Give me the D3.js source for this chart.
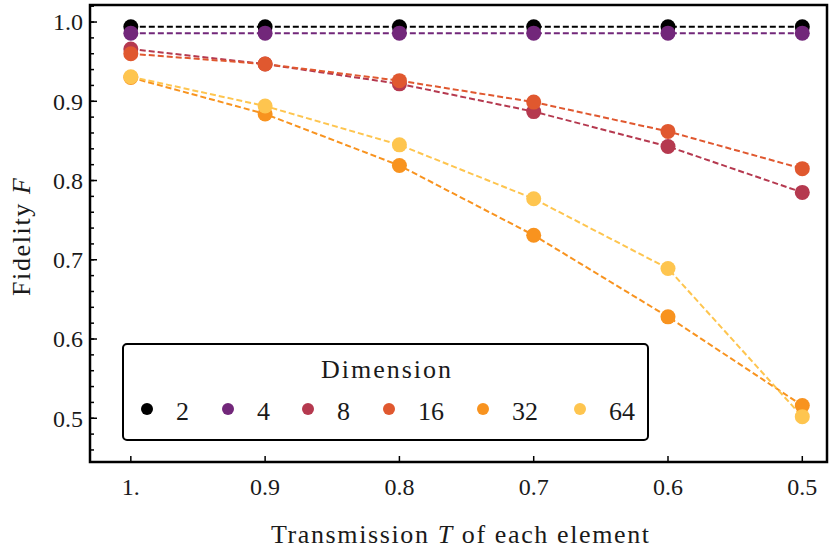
<!DOCTYPE html>
<html><head><meta charset="utf-8">
<script src="https://cdn.jsdelivr.net/npm/d3@7"></script>
<style>body{margin:0;background:#fff}svg text{font-family:"Liberation Serif",serif;fill:#1a1a1a}</style>
</head><body><svg id="c" width="830" height="560"></svg>
<script>
const transmission = [1.0, 0.9, 0.8, 0.7, 0.6, 0.5];
const xTickLabels = ["1.", "0.9", "0.8", "0.7", "0.6", "0.5"];
const yTicks = [0.5, 0.6, 0.7, 0.8, 0.9, 1.0];
const dimensions = ["2", "4", "8", "16", "32", "64"];
const colors = ["#000000", "#72277a", "#b5394f", "#e0582f", "#f8931f", "#fec54f"];
const fid2  = [0.994, 0.994, 0.994, 0.994, 0.994, 0.994];
const fid4  = [0.986, 0.986, 0.986, 0.986, 0.986, 0.986];
const fid8  = [0.966, 0.947, 0.922, 0.887, 0.843, 0.785];
const fid16 = [0.960, 0.947, 0.926, 0.899, 0.862, 0.815];
const fid32 = [0.930, 0.884, 0.819, 0.731, 0.628, 0.516];
const fid64 = [0.931, 0.894, 0.845, 0.777, 0.689, 0.502];
const series = [fid2, fid4, fid8, fid16, fid32, fid64];

const svg = d3.select("#c");
const L = 90, R = 827, T = 5, B = 462;
const x = d3.scaleLinear().domain([1.0304, 0.4816]).range([L, R]);
const y = d3.scaleLinear().domain([0.4448, 1.0215]).range([B, T]);

// frame
svg.append("rect").attr("x", L).attr("y", T).attr("width", R - L).attr("height", B - T)
  .attr("fill", "none").attr("stroke", "#000").attr("stroke-width", 2.5);

// y axis: major + minor ticks inside
const yMinor = d3.range(0.46, 1.021, 0.02).map(v => +v.toFixed(2));
const gy = svg.append("g");
gy.selectAll("line.mn").data(yMinor).join("line")
  .attr("x1", L).attr("x2", L + 4).attr("y1", d => y(d)).attr("y2", d => y(d))
  .attr("stroke", "#000").attr("stroke-width", 1.5);
gy.selectAll("line.mj").data(yTicks).join("line")
  .attr("x1", L).attr("x2", L + 7).attr("y1", d => y(d)).attr("y2", d => y(d))
  .attr("stroke", "#000").attr("stroke-width", 1.5);
gy.selectAll("text").data(yTicks).join("text")
  .attr("x", L - 7).attr("y", d => y(d)).attr("dy", "0.35em")
  .attr("text-anchor", "end").attr("font-size", 24)
  .text(d => d3.format(".1f")(d));

// x axis ticks
const gx = svg.append("g");
gx.selectAll("line").data(transmission).join("line")
  .attr("x1", d => x(d)).attr("x2", d => x(d)).attr("y1", B).attr("y2", B - 6)
  .attr("stroke", "#000").attr("stroke-width", 1.5);
gx.selectAll("text").data(transmission).join("text")
  .attr("x", d => x(d)).attr("y", B + 33).attr("text-anchor", "middle").attr("font-size", 24)
  .text((d, i) => xTickLabels[i]);

// axis labels
const xl = svg.append("text").attr("x", 460).attr("y", 543).attr("text-anchor", "middle").attr("font-size", 26)
  .attr("textLength", 378).attr("lengthAdjust", "spacing");
xl.append("tspan").text("Transmission ");
xl.append("tspan").attr("font-style", "italic").text("T");
xl.append("tspan").text(" of each element");
const yl = svg.append("text").attr("transform", "translate(30,237) rotate(-90)").attr("text-anchor", "middle").attr("font-size", 26)
  .attr("textLength", 118).attr("lengthAdjust", "spacing");
yl.append("tspan").text("Fidelity ");
yl.append("tspan").attr("font-style", "italic").text("F");

// series
const line = d3.line().x((d, i) => x(transmission[i])).y(d => y(d));
series.forEach((s, k) => {
  svg.append("path").datum(s).attr("d", line).attr("fill", "none")
    .attr("stroke", colors[k]).attr("stroke-width", 2).attr("stroke-dasharray", "6,3");
});
series.forEach((s, k) => {
  svg.append("g").selectAll("circle").data(s).join("circle")
    .attr("cx", (d, i) => x(transmission[i])).attr("cy", d => y(d)).attr("r", 7.5)
    .attr("fill", colors[k]);
});

// legend
const lg = svg.append("g");
lg.append("rect").attr("x", 123).attr("y", 344).attr("width", 525).attr("height", 96).attr("rx", 4)
  .attr("fill", "#fff").attr("stroke", "#000").attr("stroke-width", 2);
lg.append("text").attr("x", 386).attr("y", 378).attr("text-anchor", "middle").attr("font-size", 26)
  .attr("textLength", 130).attr("lengthAdjust", "spacing").text("Dimension");
const lgDotX = [147, 228, 308, 389, 483, 580];
dimensions.forEach((d, i) => {
  lg.append("circle").attr("cx", lgDotX[i]).attr("cy", 409).attr("r", 6).attr("fill", colors[i]);
  lg.append("text").attr("x", lgDotX[i] + 29).attr("y", 420).attr("text-anchor", "start").attr("font-size", 26).text(d);
});
</script></body></html>
